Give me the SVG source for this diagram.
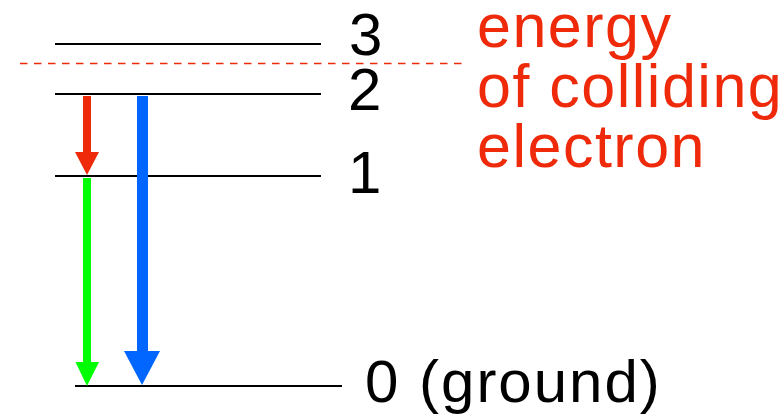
<svg xmlns="http://www.w3.org/2000/svg" width="782" height="418" viewBox="0 0 782 418">
<style>
.lvl{stroke:#000;stroke-width:2;fill:none}
.num{font-family:"Liberation Sans",Arial,sans-serif;font-size:60px;fill:#000}
.red{font-family:"Liberation Sans",Arial,sans-serif;font-size:61px;letter-spacing:1.5px;fill:#EE2A0A}
</style>
<rect width="782" height="418" fill="#fff"/>
<g id="level3"><line class="lvl" x1="55" y1="44" x2="321" y2="44"/><text class="num" x="349" y="55">3</text></g>
<g id="level2"><line class="lvl" x1="55" y1="94" x2="321" y2="94"/><text class="num" x="348" y="110">2</text></g>
<g id="level1"><line class="lvl" x1="55" y1="176" x2="321" y2="176"/><text class="num" x="348" y="193">1</text></g>
<g id="level0"><line class="lvl" x1="75" y1="386" x2="342" y2="386"/><text class="num" x="365" y="402" letter-spacing="2">0 (ground)</text></g>
<g id="collision">
<line x1="20" y1="63.5" x2="462" y2="63.5" stroke="#EE2A0A" stroke-width="1.5" stroke-dasharray="7.5 6.5"/>
<text class="red" x="477" y="47">energy</text>
<text class="red" x="477" y="107">of colliding</text>
<text class="red" x="477" y="167">electron</text>
</g>
<g id="connectors">
<path fill="#EE2A0A" d="M83,96H91V152H99L87,175L75,152H83Z"/>
<path fill="#0066FF" d="M137,96H148V351H160L142,385L124,351H137Z"/>
<path fill="#00FF00" d="M83,178H91V362H99L87,386L75.5,362H83Z"/>
</g>
</svg>
